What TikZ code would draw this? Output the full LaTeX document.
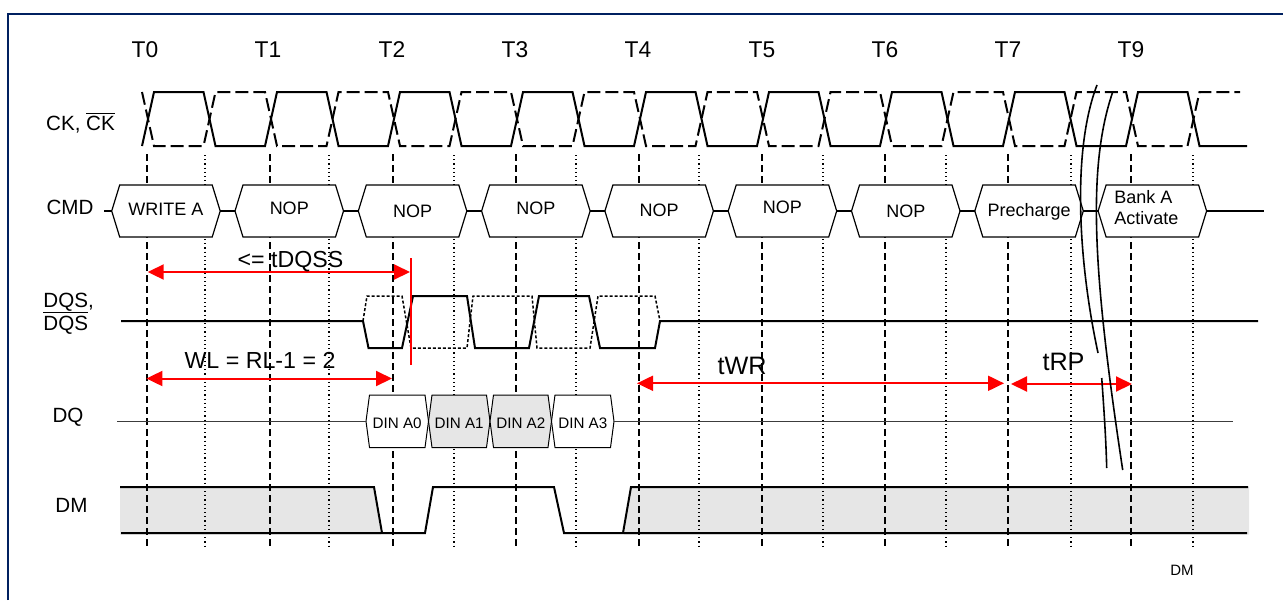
\documentclass[tikz,border=0pt]{standalone}
\usepackage{fontspec}
\setmainfont{Liberation Sans}
\usetikzlibrary{arrows.meta}
\definecolor{navyb}{RGB}{0,32,96}
\definecolor{lgray}{RGB}{230,230,230}
\definecolor{dqgray}{RGB}{60,60,60}
\newcommand\ovl[1]{$\overline{\hbox{#1}}$}
\newcommand\hexbx[7]{%
  \draw[#7] (#2,{(#4+#5)/2}) -- ({#2+#6},#4) -- ({#3-#6},#4) -- (#3,{(#4+#5)/2}) -- ({#3-#6},#5) -- ({#2+#6},#5) -- cycle;
  \coordinate (#1l) at (#2,{(#4+#5)/2});
  \coordinate (#1r) at (#3,{(#4+#5)/2});
}
\tikzset{
  grdash/.style={line width=0.7pt, dash pattern=on 3.5pt off 2pt},
  grdot/.style={line width=0.7pt, dash pattern=on 0.6pt off 1.5pt},
  cksolid/.style={line width=1pt},
  ckdash/.style={line width=1pt, dash pattern=on 6.5pt off 2.5pt},
  cmdbox/.style={line width=0.6pt, fill=white},
  cmdln/.style={line width=0.6pt},
  dqbox/.style={line width=0.5pt, fill=white},
  dqboxg/.style={line width=0.5pt, fill=lgray},
  dqln/.style={line width=0.5pt, dqgray},
  dqssolid/.style={line width=1pt},
  dqsdot/.style={line width=0.75pt, dash pattern=on 1.5pt off 1pt},
  dmln/.style={line width=1pt},
  redarr/.style={red, line width=1pt, {Triangle[length=8pt,width=7.5pt]}-{Triangle[length=8pt,width=7.5pt]}},
  redln/.style={red, line width=1pt},
  brk/.style={line width=0.8pt},
  tlbl/.style={inner sep=0pt, font=\fontsize{11.4}{13}\selectfont, text height=8.16pt, text depth=0pt},
  lbl/.style={inner sep=0pt, font=\fontsize{10.3}{12}\selectfont, text height=7.37pt, text depth=0pt},
  cmdtxt/.style={inner sep=0pt, font=\fontsize{9}{10.7}\selectfont, text height=6.44pt, text depth=0pt},
  dintxt/.style={inner sep=0pt, font=\fontsize{7.6}{9}\selectfont, text height=5.44pt, text depth=0pt},
  timtxt/.style={inner sep=0pt, font=\fontsize{11.6}{13}\selectfont, text height=8.3pt, text depth=0pt},
  bigtxt/.style={inner sep=0pt, font=\fontsize{12.6}{14}\selectfont, text height=9.0pt, text depth=0pt},
  smalltxt/.style={inner sep=0pt, font=\fontsize{7.5}{9}\selectfont, text height=5.37pt, text depth=0pt},
}
\begin{document}
\begin{tikzpicture}[x=0.5pt,y=-0.5pt]
\useasboundingbox (0,0) rectangle (1283,600);

% DM fills
\fill[lgray] (120,487) -- (374,487) -- (381,534.5) -- (120,534.5) -- cycle;
\fill[lgray] (624,534.5) -- (631,487) -- (1249,487) -- (1249,534.5) -- cycle;

% grid
\foreach \k in {0,...,8} \draw[grdash] ({147+123*\k},154) -- ({147+123*\k},547);
\foreach \x in {205,329,454,576,699,823,946,1071,1193} \draw[grdot] (\x,155) -- (\x,547);

% clock
\draw[cksolid] (142,146) \foreach \k in {0,...,8}{ -- ({142+123*\k},146) -- ({154+123*\k},92) -- ({203.5+123*\k},92) -- ({215.5+123*\k},146)} -- (1247,146);
\draw[ckdash] (142,92) \foreach \k in {0,...,8}{ -- ({142+123*\k},92) -- ({154+123*\k},146) -- ({203.5+123*\k},146) -- ({215.5+123*\k},92)} -- (1240,92);

% CMD row
\foreach \k/\txt/\ty in {0/WRITE A/209,1/NOP/208,2/NOP/211,3/NOP/208,4/NOP/210,5/NOP/207.5,6/NOP/211.5,7/Precharge/210}{
  \pgfmathsetmacro\L{111.7+123.3*\k}
  \pgfmathsetmacro\R{\L+108.5}
  \pgfmathsetmacro\C{\L+54.25}
  \hexbx{c\k}{\L}{\R}{185}{237}{8}{cmdbox}
  \node[cmdtxt] (c\k t) at (\C,\ty) {\txt};
}
\hexbx{c8}{1098.1}{1206.6}{185}{237}{8}{cmdbox}
\node[inner sep=0pt, font=\fontsize{9}{10.7}\selectfont, align=left, anchor=west] (c8t) at (1114,207.3) {Bank A\\Activate};
\coordinate (cmdstart) at (104,211);
\coordinate (cmdend) at (1264,211);
\draw[cmdln] (cmdstart) -- (c0l);
\foreach \a/\b in {0/1,1/2,2/3,3/4,4/5,5/6,6/7,7/8} \draw[cmdln] (c\a r) -- (c\b l);
\draw[line width=1pt] (c8r) -- (cmdend);

% DQS
\coordinate (dqsL) at (121,321);
\coordinate (dqsR) at (1258,321);
\draw[dqssolid] (dqsL) -- (363,321) -- (368.5,348) -- (402,348) -- (413,296) -- (467,296) -- (475,348) -- (529,348) -- (539,296) -- (589,296) -- (600,348) -- (655,348) -- (660,321) -- (dqsR);
\draw[dqsdot] (363,321) -- (367,296) -- (402,296) -- (411,348) -- (467,348) -- (473,296) -- (532,296) -- (537,348) -- (590,348) -- (598,296) -- (655,296) -- (660,321);

% DQ
\hexbx{d0}{366}{428.5}{395}{447.5}{3.5}{dqbox}
\hexbx{d1}{428.5}{490}{395}{447.5}{3.5}{dqboxg}
\hexbx{d2}{490}{551.5}{395}{447.5}{3.5}{dqboxg}
\hexbx{d3}{551.5}{614}{395}{447.5}{3.5}{dqbox}
\node[dintxt] (d0t) at (397.2,423) {DIN A0};
\node[dintxt] (d1t) at (459.2,423) {DIN A1};
\node[dintxt] (d2t) at (520.8,423) {DIN A2};
\node[dintxt] (d3t) at (582.8,423) {DIN A3};
\coordinate (dqL) at (117,421.25);
\coordinate (dqR) at (1233,421.25);
\draw[dqln] (dqL) -- (d0l);
\draw[dqln] (d3r) -- (dqR);

% DM outlines
\draw[dmln] (120,487) -- (374,487) -- (382,533);
\draw[dmln] (121,533) -- (425,533) -- (433,487) -- (554,487) -- (564,533) -- (1247,533);
\draw[dmln] (623,533) -- (631,487) -- (1248,487);

% red annotations
\coordinate (tdqssL) at (147.7,272);
\coordinate (tdqssR) at (410,272);
\draw[redarr] (tdqssL) -- (tdqssR);
\coordinate (rvT) at (410.7,258);
\coordinate (rvB) at (410.7,365);
\draw[redln] (rvT) -- (rvB);
\coordinate (wlL) at (146.4,378.5);
\coordinate (wlR) at (392,378.5);
\draw[redarr] (wlL) -- (wlR);
\coordinate (twrL) at (637,383.3);
\coordinate (twrR) at (1004,383.3);
\draw[redarr] (twrL) -- (twrR);
\coordinate (trpL) at (1011,384);
\coordinate (trpR) at (1132,384);
\draw[redarr] (trpL) -- (trpR);
\node[timtxt] (ltdqss) at (290.5,259.5) {<= tDQSS};
\node[timtxt] (lwl) at (260,360) {WL = RL-1 = 2};
\node[bigtxt] (ltwr) at (742,365) {tWR};
\node[bigtxt] (ltrp) at (1063.5,361) {tRP};

% break marks
\draw[brk] (1097,85) .. controls (1072,150) and (1078,260) .. (1098,353);
\draw[brk] (1101.7,378) .. controls (1104,410) and (1106,440) .. (1106.7,468);
\draw[brk] (1112.7,92) .. controls (1086,170) and (1094,280) .. (1122.7,470);

% T labels
\foreach \x/\t [count=\i] in {145/T0,268/T1,392/T2,515/T3,638/T4,762/T5,885/T6,1008/T7,1131/T9}
  \node[tlbl] (t\i) at (\x,49) {\t};

% signal labels
\node[lbl] (lck) at (80.5,123) {CK, \ovl{CK}};
\node[lbl] (lcmd) at (70,207) {CMD};
\node[lbl, anchor=base west] (ldqs1) at (43,307) {DQS,};
\node[lbl, anchor=base west] (ldqs2) at (43,330) {\ovl{DQS}};
\node[lbl] (ldq) at (68,415.5) {DQ};
\node[lbl] (ldm) at (71.5,505.5) {DM};
\node[smalltxt] (lfoot) at (1182,570) {DM};

% frame
\draw[navyb, line width=1.4pt] (8,600) -- (8,14) -- (1283,14);
\end{tikzpicture}
\end{document}
